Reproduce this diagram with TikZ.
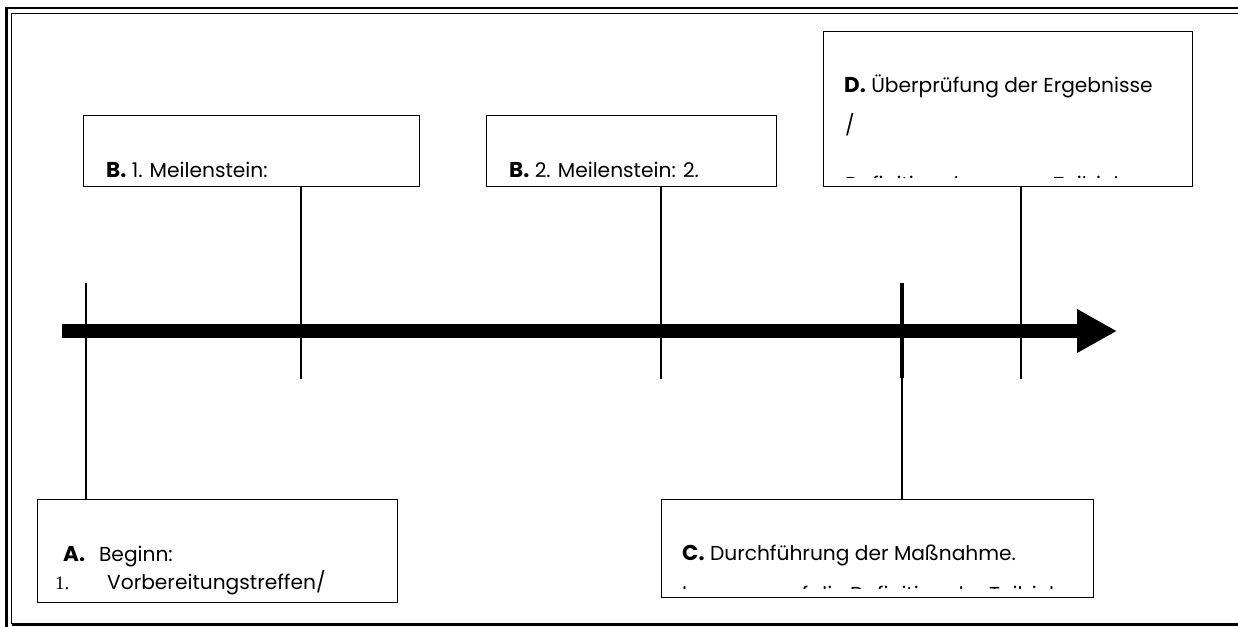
\documentclass[tikz,border=0pt]{standalone}
\usepackage{fontspec}
\setmainfont{Poppins}
\newfontfamily\serifnum{Liberation Serif}
\usetikzlibrary{arrows.meta}
\newcommand\lbx[1]{{\fontsize{21.5}{24}\selectfont\bfseries #1}}
\begin{document}
\begin{tikzpicture}[x=1pt,y=-1pt,
  box/.style={draw,line width=1.1pt,anchor=north west,inner sep=0pt},
  txt/.style={anchor=base west,inner sep=0pt,font=\fontsize{20.2}{24}\selectfont},
  tick/.style={line width=1.1pt},
  frameouter/.style={line width=2.6pt},
  frameinner/.style={line width=1.4pt}]
\useasboundingbox (0,0) rectangle (1238,626);
% frame
\draw[frameouter] (1240,8) -- (6.5,8) -- (6.5,628);
\draw[frameinner] (1240,13.5) -- (11.5,13.5) -- (11.5,624);
\draw[frameouter] (11.5,624.5) -- (1240,624.5);
% boxes
\node[box,minimum width=336pt,minimum height=71pt] (b1) at (83,115) {};
\node[box,minimum width=290pt,minimum height=71pt] (b2) at (486,115) {};
\node[box,minimum width=369pt,minimum height=155pt] (d) at (823,31) {};
\node[box,minimum width=360pt,minimum height=103pt] (a) at (37,499) {};
\node[box,minimum width=432pt,minimum height=98pt] (c) at (661,499) {};
% axis
\coordinate (ax0) at (62,331);
\coordinate (ax1) at (1117,331);
\draw[line width=14pt,-{Triangle[length=40pt,width=41pt]}] (ax0) -- (ax1);
% ticks
\coordinate (ta) at (86,283);
\coordinate (t1) at (301,379);
\coordinate (t2) at (661,379);
\coordinate (tc) at (902,283);
\coordinate (tcm) at (902,378);
\coordinate (td) at (1021,379);
\draw[tick] (ta) -- (ta |- a.north);
\draw[tick] (t1) -- (t1 |- b1.south);
\draw[tick] (t2) -- (t2 |- b2.south);
\draw[tick] (td) -- (td |- d.south);
\draw[line width=4pt] (tc) -- (tcm);
\draw[tick] (tcm) -- (tcm |- c.north);
% texts
\node[txt] (tb1) at (106,177) {\lbx{B.} 1. Meilenstein:};
\node[txt] (tb2) at (509,177) {\lbx{B.} 2. Meilenstein: 2.};
\node[txt] (td1) at (844,92) {\lbx{D.} Überprüfung der Ergebnisse};
\node[txt] (td2) at (845,132) {/};
\begin{scope}
\clip (d.north west) rectangle ([yshift=10pt]d.south east);
\node[txt] (td3) at (845,191) {Definition der neuen Teilziele};
\end{scope}
\node[txt] (ta1) at (63,561) {\lbx{A.}\hspace{14pt}Beginn:};
\node[txt,font=\fontsize{19}{22}\selectfont\serifnum] (ta2n) at (55,589) {1.};
\node[txt] (ta2) at (107,589) {Vorbereitungstreffen/};
\node[txt] (tc1) at (682,560) {\lbx{C.} Durchführung der Maßnahme.};
\begin{scope}
\clip (c.north west) rectangle ([yshift=10pt]c.south east);
\node[txt] (tc2) at (682,601) {bezogen auf die Definition der Teilziele};
\end{scope}
\end{tikzpicture}
\end{document}
